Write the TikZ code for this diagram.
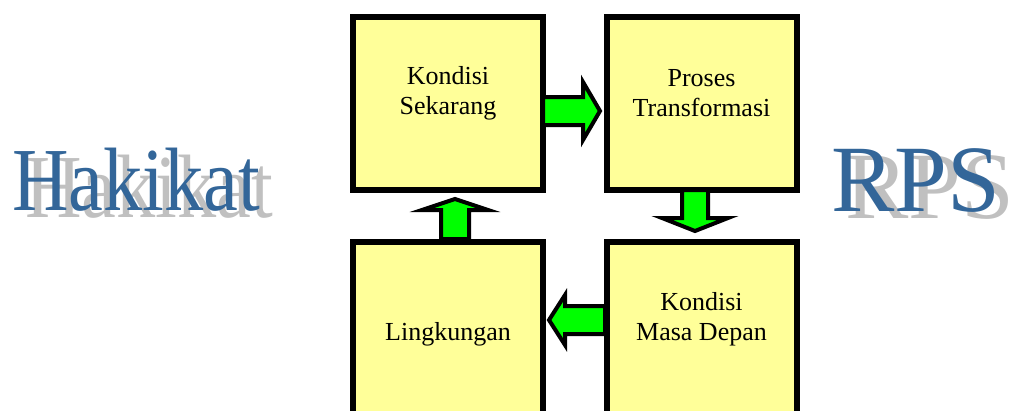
\documentclass[tikz,border=0pt]{standalone}
\usepackage{fontspec}
\usepackage{graphicx}
\setmainfont{Liberation Serif}
\definecolor{boxyellow}{HTML}{FFFF99}
\definecolor{titleblue}{HTML}{336699}
\definecolor{shadowgrey}{HTML}{C0C0C0}
\definecolor{arrowgreen}{HTML}{00FF00}
\begin{document}
\begin{tikzpicture}[x=1pt,y=-1pt,
  box/.style={draw=black,line width=6pt,fill=boxyellow,minimum width=190pt,minimum height=173pt,inner sep=0pt},
  boxtext/.style={font=\fontsize{26}{30}\selectfont,align=center,inner sep=0pt},
  barrow/.style={draw=black,line width=4pt,fill=arrowgreen,line join=miter},
  bigtext/.style={font=\fontsize{95}{100}\selectfont,anchor=base west,inner sep=0pt},
  smalltitle/.style={font=\fontsize{90}{95}\selectfont,anchor=base west,inner sep=0pt},
  shadowtext/.style={text=shadowgrey},
  titletext/.style={text=titleblue}]
\useasboundingbox (0,0) rectangle (1010,410);
% titles
\node[smalltitle,shadowtext] (hs) at (25,217) {\scalebox{0.87}[1]{Hakikat}};
\node[smalltitle,titletext] (ht) at (12,210) {\scalebox{0.87}[1]{Hakikat}};
\node[bigtext,shadowtext] (rs) at (845,218) {RPS};
\node[bigtext,titletext] (rt) at (831,211) {RPS};
% boxes
\node[box] (ks) at (448,103.5) {};
\node[box] (pt) at (701.5,103.5) {};
\node[box] (lk) at (448,328.5) {};
\node[box] (km) at (701.5,328.5) {};
% texts
\node[boxtext] (tks) at (448,93) {Kondisi\\Sekarang};
\node[boxtext] (tpt) at (701.5,93) {Proses\\Transformasi};
\node[boxtext] (tkm) at (701.5,319) {Kondisi\\Masa Depan};
\node[boxtext] (tlk) at (448,334) {Lingkungan};
% block arrows
\draw[barrow] (543,97) -- (583,97) -- (583,82) -- (600,111) -- (583,140) -- (583,125) -- (543,125) -- cycle;
\draw[barrow] (682,190) -- (708,190) -- (708,218) -- (728,218) -- (695,231) -- (662,218) -- (682,218) -- cycle;
\draw[barrow] (605,306) -- (565,306) -- (565,295) -- (549,320) -- (565,345) -- (565,334) -- (605,334) -- cycle;
\draw[barrow] (441,239) -- (441,210) -- (422,210) -- (455,199) -- (488,210) -- (469,210) -- (469,239) -- cycle;
\end{tikzpicture}
\end{document}
